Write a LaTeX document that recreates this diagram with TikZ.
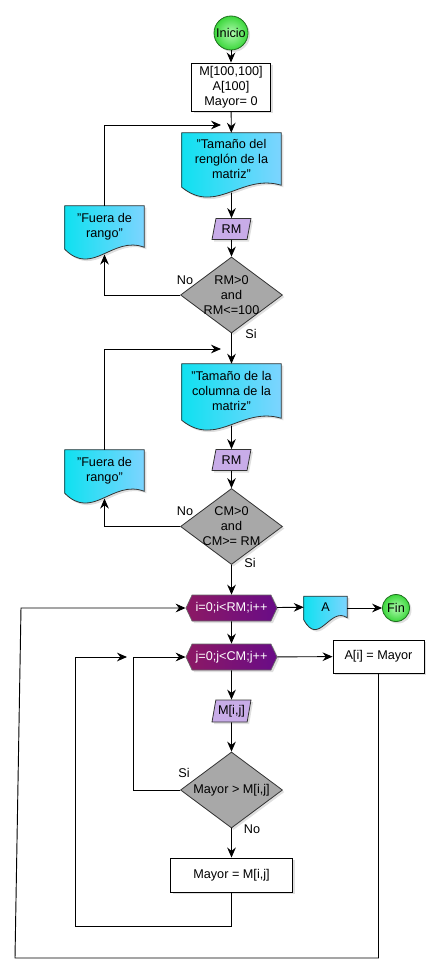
\documentclass[tikz,border=0pt]{standalone}
\usepackage{fontspec}
\setmainfont{Liberation Sans}
\usetikzlibrary{arrows.meta,shapes.geometric,shapes.symbols,calc,backgrounds,shadows}

\definecolor{docleft}{RGB}{15,225,240}
\definecolor{docright}{RGB}{125,212,255}
\definecolor{hexleft}{RGB}{140,25,100}
\definecolor{hexright}{RGB}{105,12,135}
\definecolor{parfill}{RGB}{200,172,232}
\definecolor{decfill}{RGB}{168,168,168}
\definecolor{startin}{RGB}{175,250,175}
\definecolor{startout}{RGB}{60,215,60}
\definecolor{startline}{RGB}{30,110,30}

\tikzset{
	txt/.style={font=\fontsize{9.5}{11.25}\selectfont},
	shad/.style={drop shadow={opacity=0.25,shadow xshift=1.5pt,shadow yshift=-1.5pt}},
	arr/.style={-{Stealth[length=7.5pt,width=6.5pt,inset=2.5pt]},line width=0.7pt},
	term/.style={circle,draw=startline,line width=0.6pt,inner color=startin,outer color=startout,inner sep=0pt,txt,shad},
	procbox/.style={rectangle,draw,line width=0.7pt,fill=white,align=center,inner sep=1pt,txt,shad},
	docnode/.style={rectangle,align=center,inner sep=1pt,txt},
	docout/.style={draw=black!80,line width=0.6pt,left color=docleft,right color=docright,shad},
	readbox/.style={trapezium,trapezium left angle=76,trapezium right angle=104,trapezium stretches=true,draw=black!80,line width=0.6pt,fill=parfill,inner sep=1pt,txt,shad},
	decbox/.style={diamond,draw=black!80,line width=0.6pt,fill=decfill,inner sep=0pt,minimum width=76.5pt,minimum height=57pt,shad},
	loopbox/.style={signal,signal to=west and east,signal pointer angle=130,draw=black!60,line width=0.5pt,left color=hexleft,right color=hexright,text=white,inner sep=1pt,minimum width=68.25pt,minimum height=19.5pt,txt,shad},
	lbl/.style={inner sep=1pt,txt}
}

% wavy document outline behind a node
\newcommand{\docshape}[1]{%
	\begin{scope}[on background layer]
	\draw[docout] (#1.north west) -- (#1.north east) -- (#1.south east)
		.. controls ($(#1.south west)!0.6!(#1.south east)+(0,-12)$) and ($(#1.south west)!0.35!(#1.south east)+(0,30)$) .. ($(#1.south west)+(0,2)$) -- cycle;
	\end{scope}}

\begin{document}
\begin{tikzpicture}[x=0.75pt,y=-0.75pt]
	\useasboundingbox (0,0) rectangle (440,974);
	% inicio
	\node[term,minimum size=25.5pt] (ini) at (231,33) {Inicio};
	\node[procbox,minimum width=59.25pt,minimum height=36pt] (decl) at (231,87) {M[100,100]\\A[100]\\Mayor= 0};
	% renglones
	\node[docnode,minimum width=74.25pt,minimum height=39pt] (doc1) at (231.5,159) {"Tamaño del\\renglón de la\\matriz"};
	\docshape{doc1}
	\node[readbox,minimum width=29.25pt,minimum height=15.75pt] (rm1) at (231.5,229) {RM};
	\node[decbox,label={[txt,align=center]center:RM>0\\and\\RM<=100}] (dec1) at (231.5,295) {};
	\node[docnode,minimum width=59.25pt,minimum height=30.75pt] (fue1) at (104.5,226.5) {"Fuera de\\rango"};
	\docshape{fue1}
	\node[lbl] (no1) at (185,280) {No};
	\node[lbl] (si1) at (251,334) {Si};
	% columnas
	\node[docnode,minimum width=74.25pt,minimum height=40.5pt] (doc2) at (231.5,391) {"Tamaño de la\\columna de la\\matriz"};
	\docshape{doc2}
	\node[readbox,minimum width=29.25pt,minimum height=15.75pt] (rm2) at (231.5,460) {RM};
	\node[decbox,label={[txt,align=center]center:CM>0\\and\\CM>= RM}] (dec2) at (231.5,526.5) {};
	\node[docnode,minimum width=59.25pt,minimum height=30.75pt] (fue2) at (104.5,470.5) {"Fuera de\\rango"};
	\docshape{fue2}
	\node[lbl] (no2) at (185,511) {No};
	\node[lbl] (si2) at (250,563) {Si};
	% ciclos
	\node[loopbox] (fori) at (231.5,608) {i=0;i<RM;i++};
	\node[docnode,minimum width=32.25pt,minimum height=15.75pt] (adoc) at (325.5,607) {A};
	\docshape{adoc}
	\node[term,minimum size=20.25pt] (fin) at (396,608) {Fin};
	\node[loopbox] (forj) at (231.5,657) {j=0;j<CM;j++};
	\node[procbox,minimum width=68.25pt,minimum height=24.75pt] (asig) at (378.5,656.5) {A[i] = Mayor};
	\node[readbox,minimum width=29.25pt,minimum height=16.5pt] (mij) at (231.5,711) {M[i,j]};
	\node[decbox,label={[txt]center:Mayor > M[i,j]}] (dec3) at (231.5,790) {};
	\node[lbl] (si3) at (184,773) {Si};
	\node[lbl] (no3) at (252,829) {No};
	\node[procbox,minimum width=91.5pt,minimum height=25.5pt] (may) at (231.5,875) {Mayor = M[i,j]};
	% puntos de las lineas
	\coordinate (m1) at (221,125);
	\coordinate (m2) at (221,349);
	\coordinate (c1) at (75,926);
	\coordinate (c2) at (133,657);
	\coordinate (m3) at (127,657);
	\coordinate (o2) at (15,958);
	\coordinate (o3) at (21,608);
	% conectores
	\draw[arr] (ini) -- (decl);
	\draw[arr] (decl) -- (doc1);
	\draw[arr,shorten <=5.5pt] (doc1) -- (rm1);
	\draw[arr] (rm1) -- (dec1);
	\draw[arr,shorten >=5.5pt] (dec1.west) -| (fue1.south);
	\draw[arr] (fue1.north) |- (m1);
	\draw[arr] (dec1) -- (doc2);
	\draw[arr,shorten <=5.5pt] (doc2) -- (rm2);
	\draw[arr] (rm2) -- (dec2);
	\draw[arr,shorten >=5.5pt] (dec2.west) -| (fue2.south);
	\draw[arr] (fue2.north) |- (m2);
	\draw[arr] (dec2) -- (fori);
	\draw[arr] (fori) -- (adoc);
	\draw[arr] (adoc.east |- fin) -- (fin);
	\draw[arr] (fori) -- (forj);
	\draw[arr] (forj) -- (asig);
	\draw[arr] (forj) -- (mij);
	\draw[arr] (mij) -- (dec3);
	\draw[arr] (dec3.west) -| (c2) -- (forj.west);
	\draw[arr] (dec3) -- (may);
	\draw[arr] (may.south) |- (c1) |- (m3);
	\draw[arr] (asig.south) |- (o2) -- (o3) -- (fori.west);
\end{tikzpicture}
\end{document}
